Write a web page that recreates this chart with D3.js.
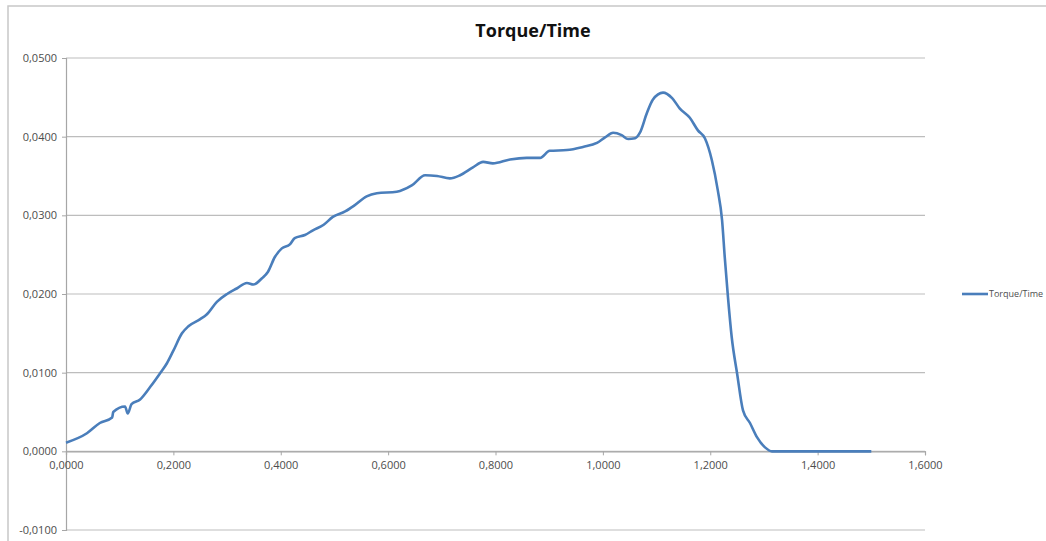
<!DOCTYPE html>
<html>
<head>
<meta charset="utf-8">
<script src="https://cdn.jsdelivr.net/npm/d3@7"></script>
<style>
  body { margin: 0; background: #fff; }
  svg { display: block; }
  .tick-label { font-family: "Open Sans", sans-serif; font-size: 11px; }
  .chart-title { font-family: "Open Sans", sans-serif; font-size: 18px; font-weight: bold; }
  .legend-label { font-family: "Open Sans", sans-serif; font-size: 9px; }
</style>
</head>
<body>
<div id="chart"></div>
<script>
// Time (s)
var timeValues = [0, 0.039, 0.063, 0.086, 0.088, 0.110, 0.115, 0.122, 0.138, 0.157,
  0.175, 0.188, 0.200, 0.216, 0.228, 0.250, 0.262, 0.281, 0.300, 0.318,
  0.337, 0.349, 0.365, 0.376, 0.389, 0.402, 0.417, 0.426, 0.445, 0.460,
  0.480, 0.497, 0.520, 0.538, 0.560, 0.579, 0.616, 0.644, 0.669, 0.691,
  0.715, 0.734, 0.758, 0.777, 0.795, 0.827, 0.858, 0.883, 0.901, 0.933,
  0.963, 0.989, 1.004, 1.019, 1.035, 1.047, 1.060, 1.069, 1.082, 1.093,
  1.112, 1.129, 1.143, 1.162, 1.177, 1.190, 1.203, 1.214, 1.222, 1.227,
  1.233, 1.240, 1.250, 1.261, 1.274, 1.287, 1.302, 1.315, 1.400, 1.500];

// Torque values matching each time
var torqueValues = [0.0011, 0.0023, 0.0036, 0.0043, 0.0050, 0.0057, 0.0048, 0.0060, 0.0066, 0.0082,
  0.0099, 0.0112, 0.0128, 0.0150, 0.0159, 0.0168, 0.0174, 0.0190, 0.0200, 0.0207,
  0.0214, 0.0212, 0.0220, 0.0228, 0.0247, 0.0258, 0.0263, 0.0271, 0.0275, 0.0281,
  0.0288, 0.0298, 0.0305, 0.0313, 0.0324, 0.0328, 0.0330, 0.0338, 0.0351, 0.0350,
  0.0347, 0.0351, 0.0361, 0.0368, 0.0366, 0.0371, 0.0373, 0.0373, 0.0382, 0.0383,
  0.0387, 0.0392, 0.0399, 0.0405, 0.0402, 0.0397, 0.0398, 0.0405, 0.0430, 0.0447,
  0.0456, 0.0449, 0.0436, 0.0424, 0.0408, 0.0398, 0.0370, 0.0332, 0.0294, 0.0247,
  0.0196, 0.0145, 0.0099, 0.0052, 0.0036, 0.0018, 0.0005, 0.0000, 0.0000, 0.0000];

// Axis ticks
var xTicks = [0, 0.2, 0.4, 0.6, 0.8, 1.0, 1.2, 1.4, 1.6];
var yTicks = [-0.01, 0, 0.01, 0.02, 0.03, 0.04, 0.05];

var seriesName = "Torque/Time";

var width = 1046, height = 541;

// Excel style number: 4 decimals, comma separator, plain hyphen
function fmt(v) {
  var s = Math.abs(v).toFixed(4).replace(".", ",");
  return (v < 0 ? "-" : "") + s;
}

var svg = d3.select("#chart")
  .append("svg")
  .attr("width", width)
  .attr("height", height);

// Outer chart frame (only top and left edges are visible)
svg.append("path")
  .attr("d", "M8," + height + "V6H" + width)
  .attr("fill", "none")
  .attr("stroke", "#c8c8c8")
  .attr("stroke-width", 1.5);

var x = d3.scaleLinear().domain([0, 1.6]).range([66, 925]);
var y = d3.scaleLinear().domain([-0.01, 0.05]).range([530, 58]);

// Horizontal gridlines
svg.append("g")
  .selectAll("line")
  .data(yTicks)
  .enter()
  .append("line")
  .attr("x1", x(0))
  .attr("x2", x(1.6))
  .attr("y1", function(d) { return y(d); })
  .attr("y2", function(d) { return y(d); })
  .attr("stroke", "#bdbdbd")
  .attr("stroke-width", 1.2);

// Y axis
var yAxis = svg.append("g")
  .attr("transform", "translate(" + x(0) + ",0)")
  .call(d3.axisLeft(y).tickValues(yTicks).tickSize(4).tickFormat(fmt));

// X axis sits on zero
var xAxis = svg.append("g")
  .attr("transform", "translate(0," + y(0) + ")")
  .call(d3.axisBottom(x).tickValues(xTicks).tickSize(4).tickFormat(fmt));

[xAxis, yAxis].forEach(function(ax) {
  ax.select(".domain").attr("stroke", "#a6a6a6").attr("stroke-width", 1.2);
  ax.selectAll(".tick line").attr("stroke", "#a6a6a6");
  ax.selectAll(".tick text")
    .attr("class", "tick-label")
    .attr("font-family", null)
    .attr("font-size", null)
    .attr("fill", "#4d4d4d");
});
yAxis.attr("font-family", null).attr("font-size", null);
xAxis.attr("font-family", null).attr("font-size", null);
yAxis.selectAll(".tick text").attr("x", -9);
xAxis.selectAll(".tick text").attr("y", 10);

// The curve
var line = d3.line()
  .x(function(d, i) { return x(timeValues[i]); })
  .y(function(d) { return y(d); })
  .curve(d3.curveMonotoneX);

svg.append("path")
  .datum(torqueValues)
  .attr("d", line)
  .attr("fill", "none")
  .attr("stroke", "#4a7ebb")
  .attr("stroke-width", 2.6)
  .attr("stroke-linejoin", "round");

// Title
svg.append("text")
  .attr("class", "chart-title")
  .attr("x", 533)
  .attr("y", 37)
  .attr("text-anchor", "middle")
  .attr("fill", "#111")
  .text(seriesName);

// Legend
var legend = svg.append("g").attr("transform", "translate(962,294)");
legend.append("line")
  .attr("x1", 0).attr("x2", 26)
  .attr("stroke", "#4a7ebb")
  .attr("stroke-width", 2.6);
legend.append("text")
  .attr("class", "legend-label")
  .attr("x", 27)
  .attr("y", 3)
  .attr("fill", "#4d4d4d")
  .text(seriesName);
</script>
</body>
</html>
